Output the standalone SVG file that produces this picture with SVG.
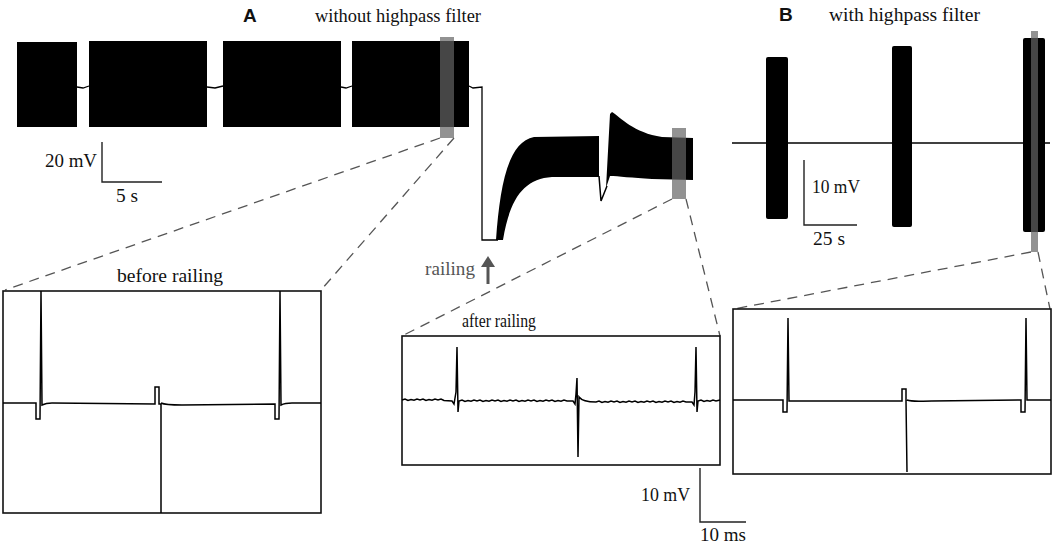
<svg xmlns="http://www.w3.org/2000/svg" width="1053" height="549" viewBox="0 0 1053 549">
<style>
.t{font-family:"Liberation Serif","Times New Roman",serif;font-size:18.5px;fill:#111}
.h{font-family:"Liberation Sans",Arial,sans-serif;font-size:19px;font-weight:bold;fill:#111}
.blk{fill:#000}
.tr{fill:none;stroke:#000;stroke-width:1.5;stroke-linejoin:miter}
.thin{fill:none;stroke:#000;stroke-width:1.3}
.box{fill:none;stroke:#111;stroke-width:1.6}
.sb{fill:none;stroke:#222;stroke-width:1.4}
.hl{fill:rgb(100,100,100);fill-opacity:0.7}
.dash{fill:none;stroke:#555;stroke-width:1.3;stroke-dasharray:10 7}
</style>
<rect width="1053" height="549" fill="#fff"/>

<g id="titles">
<text class="h" x="243" y="22">A</text>
<text class="t" x="315" y="22" textLength="166" lengthAdjust="spacingAndGlyphs">without highpass filter</text>
<text class="h" x="779" y="21">B</text>
<text class="t" x="829" y="21" textLength="151" lengthAdjust="spacingAndGlyphs">with highpass filter</text>
</g>

<g id="trace-A">
<rect class="blk" x="17" y="42" width="60" height="85"/>
<rect class="blk" x="89" y="41" width="118" height="86"/>
<rect class="blk" x="223" y="41" width="118" height="86"/>
<rect class="blk" x="352" y="41" width="117" height="86"/>
<path class="thin" d="M77,87 L83,88 L89,86 M207,87 L215,88 L223,86 M341,87 L346,88 L352,86 M469,86 L473,88 L482,87 L482,240 L498,240"/>
<path class="blk" d="M496,240 C500,185 508,142 534,137 L599,136 L599,177 L552,177 C524,179 510,198 503,240 Z"/>
<path class="tr" d="M599,176 L601,201 L607,186"/>
<path class="blk" d="M606,188 L610,114 L612,112 C620,117 634,133 662,137 L693,138 L693,180 L652,179 C632,178 618,176 610,176 Z"/>
</g>

<g id="trace-B">
<path class="tr" d="M732,143 L1050,143" stroke-width="2"/>
<rect class="blk" x="766" y="57" width="22" height="162" rx="2"/>
<rect class="blk" x="892" y="46" width="20" height="181" rx="2"/>
<rect class="blk" x="1023" y="38" width="22" height="194" rx="2"/>
</g>

<g id="highlights">
<rect class="hl" x="440" y="37" width="14" height="101"/>
<rect class="hl" x="672" y="128" width="14" height="71"/>
<rect class="hl" x="1031" y="31" width="7" height="221"/>
</g>

<g id="railing-marker">
<text class="t" x="425" y="275" textLength="50" lengthAdjust="spacingAndGlyphs" style="fill:#555">railing</text>
<path d="M488,284 L488,264" stroke="#555" stroke-width="3" fill="none"/>
<polygon points="488,256 481,267 495,267" fill="#555"/>
</g>

<g id="scalebar-A">
<path class="sb" d="M102,142 L102,182 L162,182"/>
<text class="t" x="45" y="167" textLength="52" lengthAdjust="spacingAndGlyphs">20 mV</text>
<text class="t" x="116" y="202" textLength="22" lengthAdjust="spacingAndGlyphs">5 s</text>
</g>

<g id="scalebar-B">
<path class="sb" d="M804,160 L804,225 L857,225"/>
<text class="t" x="812" y="193" textLength="48" lengthAdjust="spacingAndGlyphs">10 mV</text>
<text class="t" x="813" y="245" textLength="32" lengthAdjust="spacingAndGlyphs">25 s</text>
</g>

<g id="connectors">
<line class="dash" x1="440" y1="138" x2="5" y2="290"/>
<line class="dash" x1="454" y1="138" x2="321" y2="290"/>
<line class="dash" x1="672" y1="199" x2="402" y2="336"/>
<line class="dash" x1="686" y1="199" x2="720" y2="336"/>
<line class="dash" x1="1031" y1="252" x2="734" y2="309"/>
<line class="dash" x1="1038" y1="252" x2="1050" y2="309"/>
</g>

<g id="inset-before">
<text class="t" x="117" y="282" textLength="106" lengthAdjust="spacingAndGlyphs">before railing</text>
<rect class="box" x="3" y="291" width="318" height="222"/>
<path class="tr" d="M3,403 L36,403 L36,419 L40,419 L41,291 L42,405 C44,404 46,403 52,403 L155,404 L155,387 L159,387 L159,404 L161,404 L161,513 M161,403 C165,405 170,405 182,405 L275,404 L275,419 L279,419 L280,291 L281,405 C283,404 286,403 292,403 L321,403"/>
</g>

<g id="inset-after">
<text class="t" x="462" y="327" textLength="74" lengthAdjust="spacingAndGlyphs">after railing</text>
<rect class="box" x="402" y="336" width="318" height="129"/>
<path class="tr" stroke-width="1.4" d="M402,400 l3,-1 3,1.5 3,-1 3,0.8 3,-1.3 3,1 l3,-1 3,1.5 3,-1 3,0.8 3,-1.3 3,1 l3,-1 3,1.5 L452,401 L454,404 L456,392 L457,347 L458,412 L459,401 l3,-1 3,1.5 3,-1 3,0.8 3,-1.3 3,1 l3,-1 3,1.5 3,-1 3,0.8 3,-1.3 3,1 l3,-1 3,1.5 3,-1 3,0.8 3,-1.3 3,1 l3,-1 3,1.5 3,-1 3,0.8 3,-1.3 3,1 l3,-1 3,1.5 3,-1 3,0.8 3,-1.3 3,1 l3,-1 3,1.5 3,-1 3,0.8 3,-1.3 3,1 L573,401 L575,404 L576,394 L577,378 L578,457 L579,397 C582,401 588,402 596,402 l3,-1 3,1.5 3,-1 3,0.8 3,-1.3 3,1 l3,-1 3,1.5 3,-1 3,0.8 3,-1.3 3,1 l3,-1 3,1.5 3,-1 3,0.8 3,-1.3 3,1 l3,-1 3,1.5 3,-1 3,0.8 3,-1.3 3,1 l3,-1 3,1.5 3,-1 3,0.8 3,-1.3 3,1 L692,402 L694,405 L695,392 L696,347 L697,412 L698,401 l3,-1 3,1.5 3,-1 3,0.8 3,-1.3 3,1 L720,400"/>
</g>

<g id="scalebar-after">
<path class="sb" d="M700,468 L700,522 L746,522"/>
<text class="t" x="641" y="501" textLength="49" lengthAdjust="spacingAndGlyphs">10 mV</text>
<text class="t" x="700" y="541" textLength="46" lengthAdjust="spacingAndGlyphs">10 ms</text>
</g>

<g id="inset-highpass">
<rect class="box" x="733" y="309" width="318" height="165"/>
<path class="tr" d="M733,400 L783,400 L783,412 L787,412 L788,318 L789,401 L902,401 L902,389 L906,389 L906,401 L907,472 M907,400 C912,402 920,401 932,401 L1021,400 L1021,412 L1025,412 L1026,318 L1027,400 L1051,400"/>
</g>
</svg>
